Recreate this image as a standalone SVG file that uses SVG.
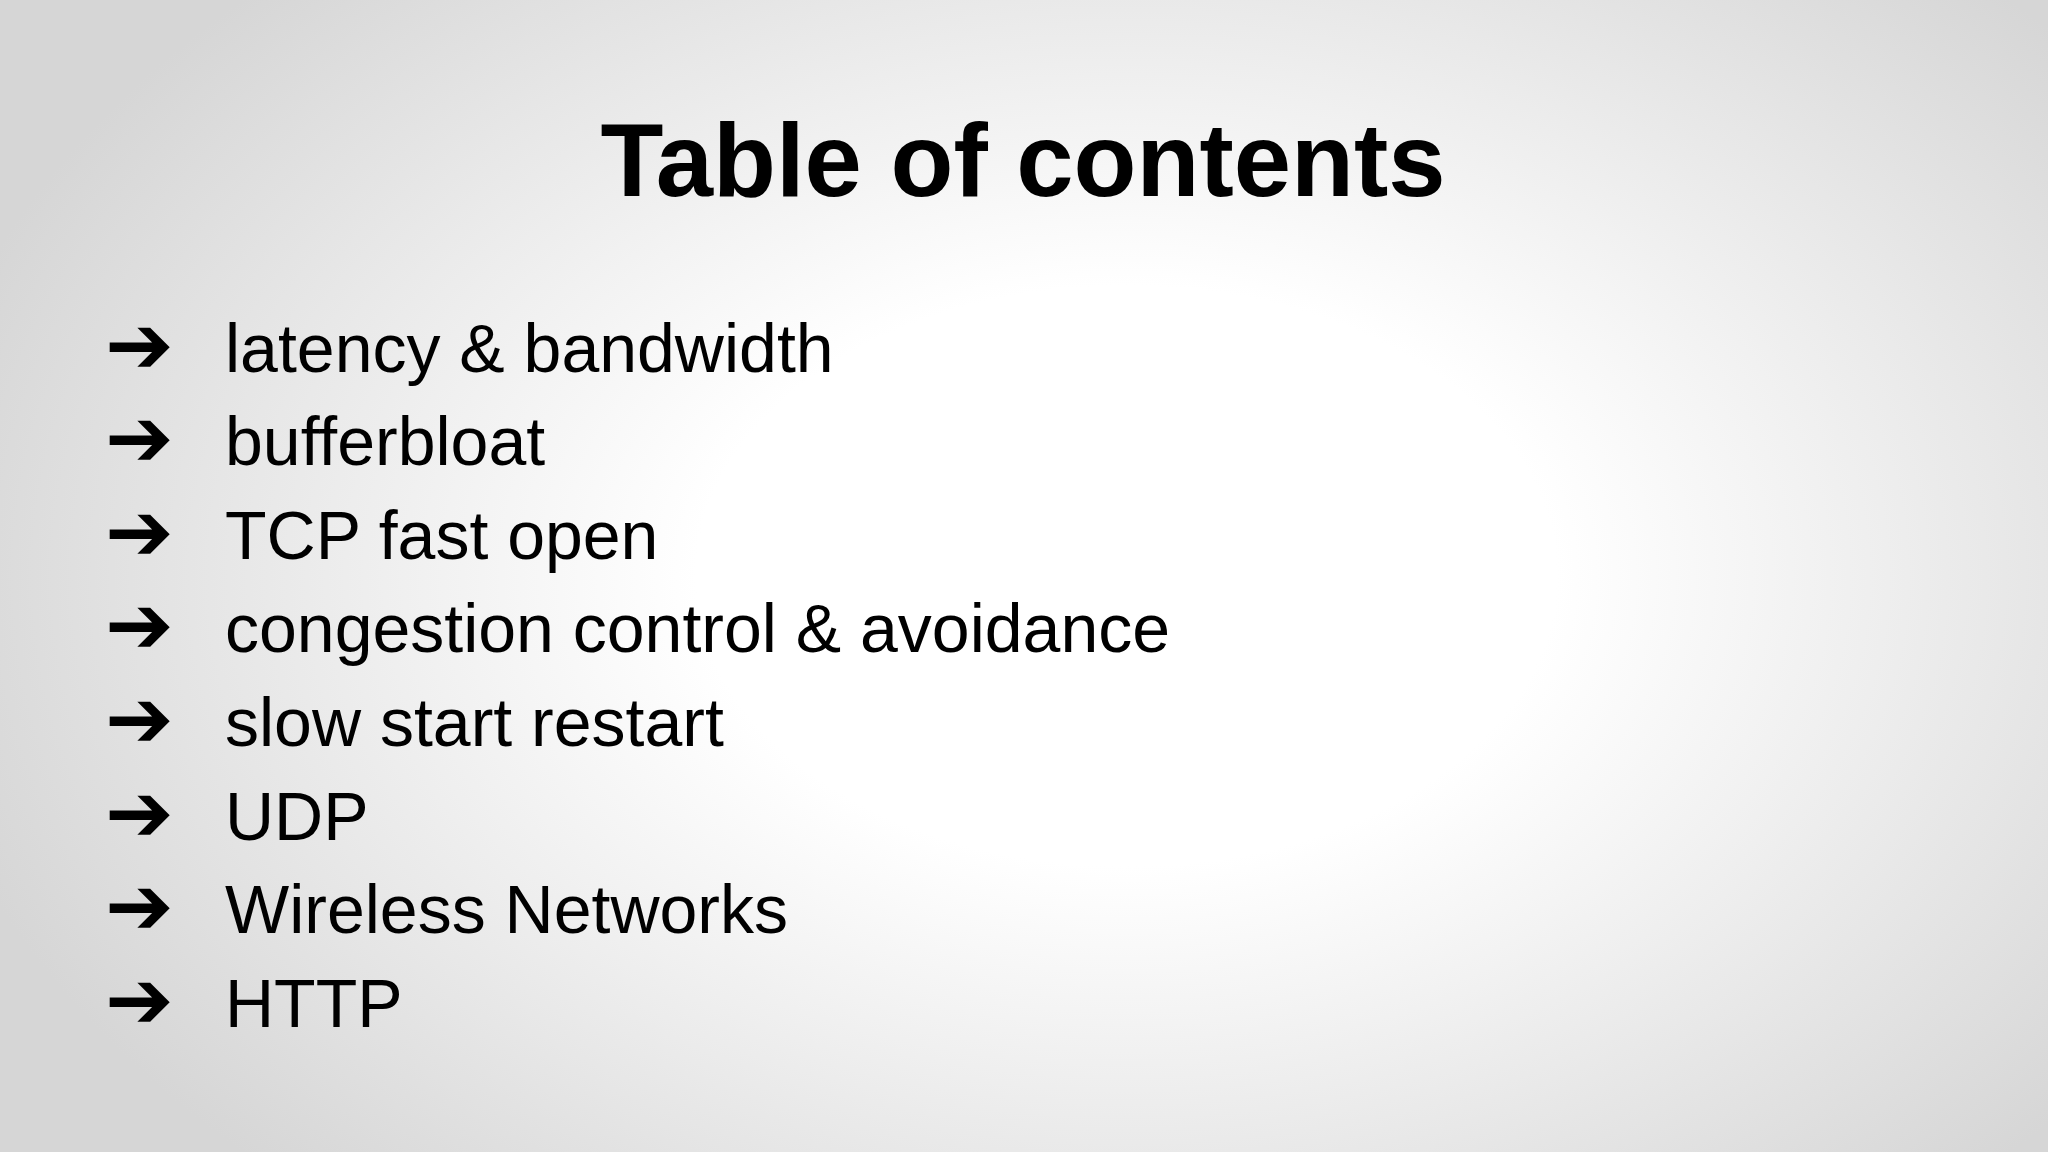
<svg xmlns="http://www.w3.org/2000/svg" width="2048" height="1152" viewBox="0 0 2048 1152">
<defs>
<radialGradient id="bg" cx="0.55" cy="0.5" r="0.6" gradientTransform="translate(0.55 0.5) scale(1 1.2) translate(-0.55 -0.5)">
<stop offset="0" stop-color="#ffffff"/>
<stop offset="0.35" stop-color="#ffffff"/>
<stop offset="1" stop-color="#d6d6d6"/>
</radialGradient>
<style>
.t{font-family:"Liberation Sans",Arial,sans-serif;font-weight:bold;font-size:103px;fill:#000}
.i{font-family:"Liberation Sans",Arial,sans-serif;font-size:68px;fill:#000}
.a{font-family:"DejaVu Sans",sans-serif;font-weight:bold;font-size:82px;fill:#000}
</style>
</defs>
<rect width="2048" height="1152" fill="url(#bg)"/>
<g id="title"><text class="t" x="1023" y="196" text-anchor="middle">Table of contents</text></g>
<g id="items">
<g id="i1"><text class="a" x="105" y="373">➔</text><text class="i" x="225" y="372">latency &amp; bandwidth</text></g>
<g id="i2"><text class="a" x="105" y="466">➔</text><text class="i" x="225" y="465">bufferbloat</text></g>
<g id="i3"><text class="a" x="105" y="560">➔</text><text class="i" x="225" y="559">TCP fast open</text></g>
<g id="i4"><text class="a" x="105" y="653">➔</text><text class="i" x="225" y="652">congestion control &amp; avoidance</text></g>
<g id="i5"><text class="a" x="105" y="747">➔</text><text class="i" x="225" y="746">slow start restart</text></g>
<g id="i6"><text class="a" x="105" y="841">➔</text><text class="i" x="225" y="840">UDP</text></g>
<g id="i7"><text class="a" x="105" y="934">➔</text><text class="i" x="225" y="933">Wireless Networks</text></g>
<g id="i8"><text class="a" x="105" y="1028">➔</text><text class="i" x="225" y="1027">HTTP</text></g>
</g>
</svg>
